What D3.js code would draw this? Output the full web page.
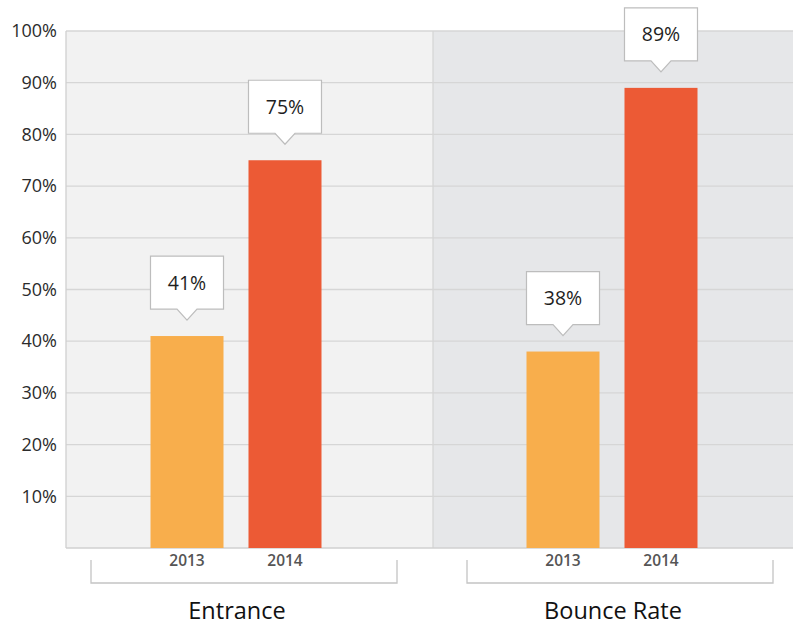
<!DOCTYPE html>
<html><head><meta charset="utf-8">
<script src="https://cdn.jsdelivr.net/npm/d3@7"></script>
<style>
body{margin:0;background:#fff;}
text{font-family:"Open Sans",Lato,sans-serif;}
</style></head>
<body><svg id="chart" width="793" height="626"></svg>
<script>
const groups = ["Entrance", "Bounce Rate"];
const years = ["2013", "2014"];
const values2013 = [41, 38];
const values2014 = [75, 89];
const yTicks = [10, 20, 30, 40, 50, 60, 70, 80, 90, 100];
const yTickLabels = ["10%", "20%", "30%", "40%", "50%", "60%", "70%", "80%", "90%", "100%"];

const W = 793, H = 626;
const plotLeft = 66, plotTop = 31, plotBottom = 548, divider = 433;
const colors = {"2013": "#f8ae4c", "2014": "#ec5a35"};

const data = [];
groups.forEach((g, i) => {
  data.push({group: g, year: "2013", value: values2013[i]});
  data.push({group: g, year: "2014", value: values2014[i]});
});

const svg = d3.select("#chart");
const y = d3.scaleLinear().domain([0, 100]).range([plotBottom, plotTop]);
const x0 = d3.scaleBand().domain(groups).range([48, 800]).padding(0);
const x1 = d3.scaleBand().domain(years).range([-85.5, 85.5]).paddingInner(0.255).paddingOuter(0);
const cx = g => x0(g) + x0.bandwidth() / 2;

// panel backgrounds
svg.append("rect").attr("x", plotLeft).attr("y", plotTop).attr("width", divider - plotLeft).attr("height", plotBottom - plotTop).attr("fill", "#f2f2f2");
svg.append("rect").attr("x", divider).attr("y", plotTop).attr("width", W - divider).attr("height", plotBottom - plotTop).attr("fill", "#e6e7e9");

// gridlines
svg.append("g").selectAll("line").data(yTicks).join("line")
  .attr("x1", plotLeft).attr("x2", W)
  .attr("y1", d => y(d)).attr("y2", d => y(d))
  .attr("stroke", "#d6d6d6").attr("stroke-width", 1.3);

// divider + axes
svg.append("line").attr("x1", divider).attr("x2", divider).attr("y1", plotTop).attr("y2", plotBottom).attr("stroke", "#d6d6d6").attr("stroke-width", 1.3);
svg.append("line").attr("x1", plotLeft).attr("x2", plotLeft).attr("y1", plotTop).attr("y2", plotBottom).attr("stroke", "#d0d0d0").attr("stroke-width", 1.3);
svg.append("line").attr("x1", plotLeft).attr("x2", W).attr("y1", plotBottom).attr("y2", plotBottom).attr("stroke", "#d0d0d0").attr("stroke-width", 1.3);

// y axis labels
const yAxis = d3.axisLeft(y).tickValues(yTicks).tickFormat((d, i) => yTickLabels[i]).tickSize(0).tickPadding(9);
const ya = svg.append("g").attr("transform", `translate(${plotLeft},0)`).call(yAxis);
ya.select(".domain").remove();
ya.selectAll("text").attr("font-size", 18).attr("fill", "#2b2b2b").attr("font-family", '"Open Sans",sans-serif');

// bars
svg.append("g").selectAll("rect").data(data).join("rect")
  .attr("x", d => cx(d.group) + x1(d.year))
  .attr("y", d => y(d.value))
  .attr("width", x1.bandwidth())
  .attr("height", d => y(0) - y(d.value))
  .attr("fill", d => colors[d.year]);

// callouts
const bw = x1.bandwidth(), bh = 53, ph = 11, pw = 10, gap = 16;
const call = svg.append("g").selectAll("g").data(data).join("g")
  .attr("transform", d => `translate(${cx(d.group) + x1(d.year) + bw / 2},${y(d.value) - gap})`);
call.append("path")
  .attr("d", `M0,0 L${-pw},${-ph} L${-bw/2},${-ph} L${-bw/2},${-ph-bh} L${bw/2},${-ph-bh} L${bw/2},${-ph} L${pw},${-ph} Z`)
  .attr("fill", "#fff").attr("stroke", "#bdbdbd").attr("stroke-width", 1.2);
call.append("text")
  .attr("y", -ph - bh / 2 + 7)
  .attr("text-anchor", "middle").attr("font-size", 19.5).attr("fill", "#1e1e1e")
  .text(d => d.value + "%");

// year labels
svg.append("g").selectAll("text").data(data).join("text")
  .attr("x", d => cx(d.group) + x1(d.year) + bw / 2)
  .attr("y", 566)
  .attr("text-anchor", "middle").attr("font-size", 15.5).attr("font-weight", 600).attr("fill", "#555")
  .text(d => d.year);

// brackets
const bx = g => cx(g) + 8;
svg.append("g").selectAll("path").data(groups).join("path")
  .attr("d", g => `M${bx(g) - 153},560 V583 H${bx(g) + 153} V560`)
  .attr("fill", "none").attr("stroke", "#c4c4c4").attr("stroke-width", 1.3);

// group labels
svg.append("g").selectAll("text").data(groups).join("text")
  .attr("x", g => cx(g) + 1)
  .attr("y", 619)
  .attr("text-anchor", "middle").attr("font-size", 23.5).attr("fill", "#111")
  .text(g => g);
</script></body></html>
